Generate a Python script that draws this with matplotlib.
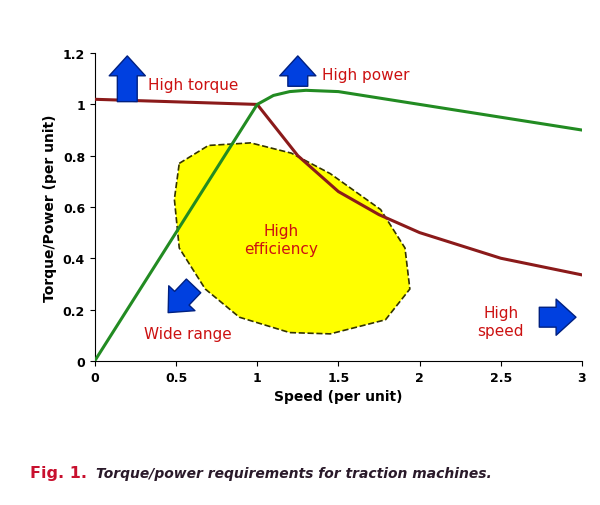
import matplotlib
matplotlib.use("Agg")
import matplotlib.pyplot as plt
from matplotlib.patches import Polygon
import numpy as np

torque_x = [0, 0.5, 1.0, 1.1, 1.25, 1.5, 1.75, 2.0, 2.5, 3.0]
torque_y = [1.02, 1.01, 1.0, 0.92, 0.80, 0.66, 0.57, 0.50, 0.40, 0.335]
power_x = [0, 1.0, 1.1, 1.2, 1.3, 1.5, 2.0, 2.5, 3.0]
power_y = [0, 1.0, 1.035, 1.05, 1.055, 1.05, 1.0, 0.95, 0.90]
blob_x = [0.52, 0.70, 0.96, 1.21, 1.45, 1.76, 1.91, 1.94, 1.79, 1.45, 1.20, 0.89, 0.68, 0.52, 0.49]
blob_y = [0.77, 0.84, 0.85, 0.81, 0.73, 0.59, 0.44, 0.28, 0.16, 0.105, 0.11, 0.17, 0.28, 0.44, 0.63]

fig = plt.figure(figsize=(6, 5.06), dpi=100)
ax = fig.add_axes([0.158, 0.285, 0.812, 0.608])
ax.add_patch(Polygon(list(zip(blob_x, blob_y)), closed=True, fc='#ffff00', ec='#333300', ls='--', lw=1.2, zorder=1))
ax.plot(torque_x, torque_y, color='#8b1a1a', lw=2.2, zorder=3)
ax.plot(power_x, power_y, color='#228b22', lw=2.2, zorder=3)
ax.set_xlim(0, 3); ax.set_ylim(0, 1.2)
ax.set_xticks([0, 0.5, 1, 1.5, 2, 2.5, 3]); ax.set_xticklabels(['0', '0.5', '1', '1.5', '2', '2.5', '3'])
ax.set_yticks([0, 0.2, 0.4, 0.6, 0.8, 1, 1.2]); ax.set_yticklabels(['0', '0.2', '0.4', '0.6', '0.8', '1', '1.2'])
for s in ['top', 'right']:
    ax.spines[s].set_visible(False)
ax.tick_params(labelsize=9)
for t in ax.get_xticklabels() + ax.get_yticklabels():
    t.set_fontweight('bold')
ax.set_xlabel('Speed (per unit)', fontsize=10, fontweight='bold')
ax.set_ylabel('Torque/Power (per unit)', fontsize=10, fontweight='bold')

blue = '#0040e0'
style = 'simple,head_width=1.0,head_length=0.55,tail_width=0.55'
def arrow(x0, y0, x1, y1):
    ax.annotate('', xy=(x1, y1), xytext=(x0, y0),
                arrowprops=dict(arrowstyle=style, fc=blue, ec='#002080', mutation_scale=26),
                annotation_clip=False, zorder=5)
arrow(0.20, 1.0, 0.20, 1.2)
arrow(1.25, 1.06, 1.25, 1.2)
arrow(0.62, 0.30, 0.44, 0.18)
arrow(2.72, 0.17, 2.98, 0.17)

red = '#cc1111'
ax.text(0.33, 1.06, 'High torque', color=red, fontsize=11)
ax.text(1.40, 1.10, 'High power', color=red, fontsize=11)
ax.text(1.15, 0.42, 'High\nefficiency', color=red, fontsize=11, ha='center', linespacing=1.3)
ax.text(0.30, 0.09, 'Wide range', color=red, fontsize=11)
ax.text(2.50, 0.10, 'High\nspeed', color=red, fontsize=11, ha='center', linespacing=1.3)

fig.text(0.05, 0.055, 'Fig. 1.', color='#c8102e', fontsize=11.5, fontweight='bold')
fig.text(0.16, 0.055, 'Torque/power requirements for traction machines.', color='#2a1a2a',
         fontsize=10, fontweight='bold', style='italic')
fig.savefig('out.png', dpi=100)
